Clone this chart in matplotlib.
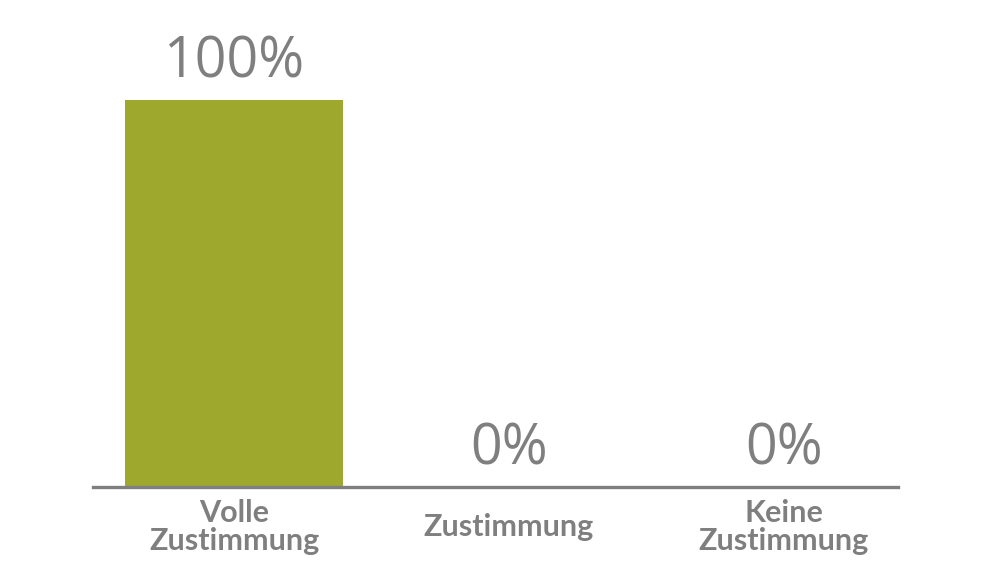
import matplotlib.pyplot as plt

categories = ["Volle\nZustimmung", "Zustimmung", "Keine\nZustimmung"]
values = [100, 0, 0]
value_labels = ["100%", "0%", "0%"]

bar_color = "#9EA82D"
text_gray = "#7F7F7F"

fig = plt.figure(figsize=(10, 5.63), dpi=100)
ax = fig.add_axes([0.093, 0.135, 0.805, 0.687])

x = list(range(len(categories)))
ax.bar(x, values, width=0.79, color=bar_color, zorder=2)

for xi, v, lab in zip(x, values, value_labels):
    ax.annotate(lab, (xi, v), xytext=(0, 16), textcoords="offset points",
                ha="center", va="baseline", fontsize=40, color=text_gray,
                family="Open Sans", annotation_clip=False)

ax.set_xlim(-0.513, 2.415)
ax.set_ylim(0, 100)

for s in ["top", "right", "left"]:
    ax.spines[s].set_visible(False)
ax.spines["bottom"].set_color(text_gray)
ax.spines["bottom"].set_linewidth(2.4)

ax.set_yticks([])
ax.set_xticks(x)
ax.set_xticklabels(categories, fontsize=22, fontweight="bold", color=text_gray,
                   family="Lato", linespacing=1.0)
# centre the labels vertically so the single-line one sits between the two rows
for lbl in ax.get_xticklabels():
    lbl.set_verticalalignment("center")
ax.tick_params(axis="x", length=0, pad=29)

fig.savefig("out.png", dpi=100)
